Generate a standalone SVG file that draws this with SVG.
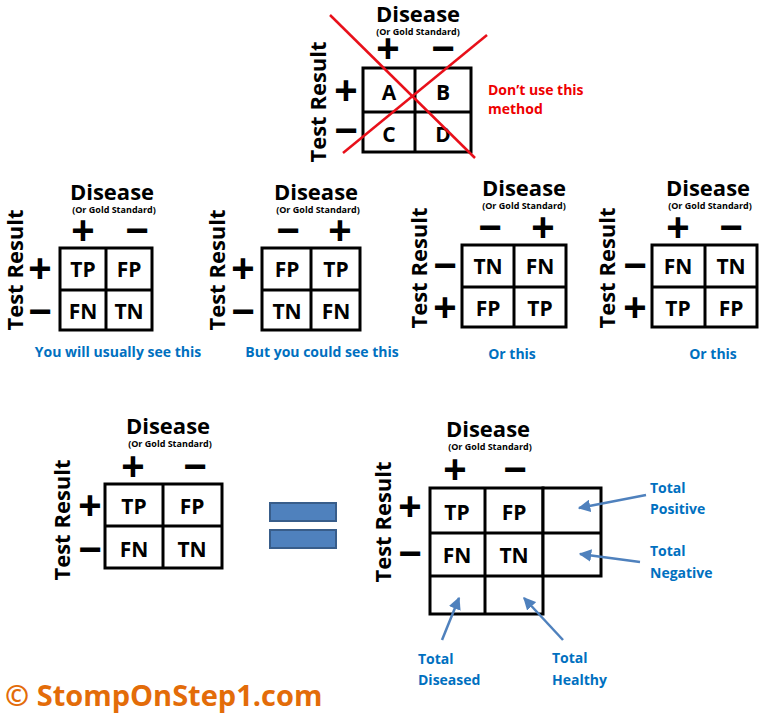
<svg xmlns="http://www.w3.org/2000/svg" width="776" height="718" viewBox="0 0 776 718">
<style>
text{font-family:"Open Sans","Liberation Sans",sans-serif;font-weight:bold}
.t{font-size:22px;text-anchor:middle;fill:#000}
.s{font-size:9px;text-anchor:middle}
.pm{font-size:40px;text-anchor:middle;font-family:"Liberation Sans",sans-serif}
.c{font-size:21px;text-anchor:middle}
.tr{font-size:22px;text-anchor:middle}
.g{fill:#fff;stroke:#000;stroke-width:3}
.ln{stroke:#000;stroke-width:3}
.cap{font-size:14px;fill:#0070c0;text-anchor:middle}
.bl{font-size:14px;fill:#0070c0}
.ar{stroke:#4f81bd;stroke-width:2.5;fill:none;marker-end:url(#ah)}
</style>
<defs><marker id="ah" viewBox="0 0 10 10" refX="9" refY="5" markerWidth="5" markerHeight="5" orient="auto"><path d="M0,0L10,5L0,10z" fill="#4f81bd"/></marker></defs>
<rect width="776" height="718" fill="#fff"/>

<g id="top">
<text class="t" x="418" y="22">Disease</text><text class="s" x="418" y="35">(Or Gold Standard)</text>
<text class="pm" x="388" y="62">+</text><text class="pm" x="443" y="62">−</text>
<text class="pm" x="346" y="104">+</text><text class="pm" x="346" y="144">−</text>
<text class="tr" transform="translate(326,102) rotate(-90)">Test Result</text>
<rect class="g" x="363" y="68" width="108" height="84"/><line class="ln" x1="415" y1="68" x2="415" y2="152"/><line class="ln" x1="363" y1="112" x2="471" y2="112"/>
<text class="c" x="389" y="100">A</text><text class="c" x="443" y="100">B</text><text class="c" x="389" y="142">C</text><text class="c" x="443" y="142">D</text>
<line x1="330" y1="15" x2="475" y2="158" stroke="#e8101a" stroke-width="2.5"/><line x1="487" y1="35" x2="343" y2="153" stroke="#e8101a" stroke-width="2.5"/>
<text x="488" y="95" font-size="14" fill="#e00">Don’t use this</text><text x="488" y="114" font-size="14" fill="#e00">method</text>
</g>

<g id="m1">
<text class="t" x="112" y="200">Disease</text><text class="s" x="114" y="213">(Or Gold Standard)</text>
<text class="pm" x="83" y="244">+</text><text class="pm" x="137" y="244">−</text>
<text class="pm" x="40" y="282">+</text><text class="pm" x="40" y="325">−</text>
<text class="tr" transform="translate(23,270) rotate(-90)">Test Result</text>
<rect class="g" x="60" y="248" width="92" height="82"/><line class="ln" x1="106" y1="248" x2="106" y2="330"/><line class="ln" x1="60" y1="290" x2="152" y2="290"/>
<text class="c" x="83" y="277">TP</text><text class="c" x="129" y="277">FP</text><text class="c" x="83" y="319">FN</text><text class="c" x="129" y="319">TN</text>
<text class="cap" x="118" y="357">You will usually see this</text>
</g>

<g id="m2">
<text class="t" x="316" y="200">Disease</text><text class="s" x="318" y="213">(Or Gold Standard)</text>
<text class="pm" x="288" y="244">−</text><text class="pm" x="340" y="244">+</text>
<text class="pm" x="243" y="282">+</text><text class="pm" x="243" y="325">−</text>
<text class="tr" transform="translate(225,270) rotate(-90)">Test Result</text>
<rect class="g" x="262" y="248" width="98" height="82"/><line class="ln" x1="311" y1="248" x2="311" y2="330"/><line class="ln" x1="262" y1="290" x2="360" y2="290"/>
<text class="c" x="287" y="277">FP</text><text class="c" x="336" y="277">TP</text><text class="c" x="287" y="319">TN</text><text class="c" x="336" y="319">FN</text>
<text class="cap" x="322" y="357">But you could see this</text>
</g>

<g id="m3">
<text class="t" x="524" y="196">Disease</text><text class="s" x="524" y="209">(Or Gold Standard)</text>
<text class="pm" x="490" y="241">−</text><text class="pm" x="543" y="241">+</text>
<text class="pm" x="445" y="279">−</text><text class="pm" x="445" y="321">+</text>
<text class="tr" transform="translate(427,268) rotate(-90)">Test Result</text>
<rect class="g" x="462" y="245" width="104" height="82"/><line class="ln" x1="514" y1="245" x2="514" y2="327"/><line class="ln" x1="462" y1="287" x2="566" y2="287"/>
<text class="c" x="488" y="274">TN</text><text class="c" x="540" y="274">FN</text><text class="c" x="488" y="316">FP</text><text class="c" x="540" y="316">TP</text>
<text class="cap" x="512" y="359">Or this</text>
</g>

<g id="m4">
<text class="t" x="708" y="196">Disease</text><text class="s" x="710" y="209">(Or Gold Standard)</text>
<text class="pm" x="678" y="241">+</text><text class="pm" x="731" y="241">−</text>
<text class="pm" x="635" y="279">−</text><text class="pm" x="635" y="321">+</text>
<text class="tr" transform="translate(615,268) rotate(-90)">Test Result</text>
<rect class="g" x="652" y="245" width="105" height="82"/><line class="ln" x1="705" y1="245" x2="705" y2="327"/><line class="ln" x1="652" y1="287" x2="757" y2="287"/>
<text class="c" x="678" y="274">FN</text><text class="c" x="731" y="274">TN</text><text class="c" x="678" y="316">TP</text><text class="c" x="731" y="316">FP</text>
<text class="cap" x="713" y="359">Or this</text>
</g>

<g id="bl">
<text class="t" x="168" y="434">Disease</text><text class="s" x="170" y="447">(Or Gold Standard)</text>
<text class="pm" x="133" y="480">+</text><text class="pm" x="195" y="480">−</text>
<text class="pm" x="90" y="519">+</text><text class="pm" x="90" y="563">−</text>
<text class="tr" transform="translate(70,520) rotate(-90)">Test Result</text>
<rect class="g" x="105" y="484" width="117" height="84"/><line class="ln" x1="163" y1="484" x2="163" y2="568"/><line class="ln" x1="105" y1="526" x2="222" y2="526"/>
<text class="c" x="134" y="514">TP</text><text class="c" x="192" y="514">FP</text><text class="c" x="134" y="557">FN</text><text class="c" x="192" y="557">TN</text>
</g>

<g id="eq">
<rect x="270" y="503" width="66" height="18" fill="#4f81bd" stroke="#385d8a" stroke-width="2"/>
<rect x="270" y="530" width="66" height="18" fill="#4f81bd" stroke="#385d8a" stroke-width="2"/>
</g>

<g id="br">
<text class="t" x="488" y="437">Disease</text><text class="s" x="490" y="450">(Or Gold Standard)</text>
<text class="pm" x="455" y="483">+</text><text class="pm" x="515" y="483">−</text>
<text class="pm" x="410" y="520">+</text><text class="pm" x="410" y="567">−</text>
<text class="tr" transform="translate(391,522) rotate(-90)">Test Result</text>
<rect class="g" x="430" y="488" width="113" height="126"/><rect class="g" x="543" y="488" width="58" height="88"/>
<line class="ln" x1="485" y1="488" x2="485" y2="614"/><line class="ln" x1="430" y1="533" x2="601" y2="533"/><line class="ln" x1="430" y1="576" x2="543" y2="576"/>
<text class="c" x="457" y="520">TP</text><text class="c" x="514" y="520">FP</text><text class="c" x="457" y="563">FN</text><text class="c" x="514" y="563">TN</text>
</g>

<g id="connectors">
<line class="ar" x1="646" y1="495" x2="579" y2="508"/>
<line class="ar" x1="640" y1="562" x2="580" y2="554"/>
<line class="ar" x1="442" y1="640" x2="459" y2="598"/>
<line class="ar" x1="563" y1="640" x2="524" y2="598"/>
</g>
<g id="labels">
<text class="bl" x="650" y="493">Total</text><text class="bl" x="650" y="514">Positive</text>
<text class="bl" x="650" y="556">Total</text><text class="bl" x="650" y="578">Negative</text>
<text class="bl" x="418" y="664">Total</text><text class="bl" x="418" y="685">Diseased</text>
<text class="bl" x="552" y="663">Total</text><text class="bl" x="552" y="685">Healthy</text>
</g>
<text x="5" y="706" font-size="29" fill="#e36c09">© StompOnStep1.com</text>
</svg>
